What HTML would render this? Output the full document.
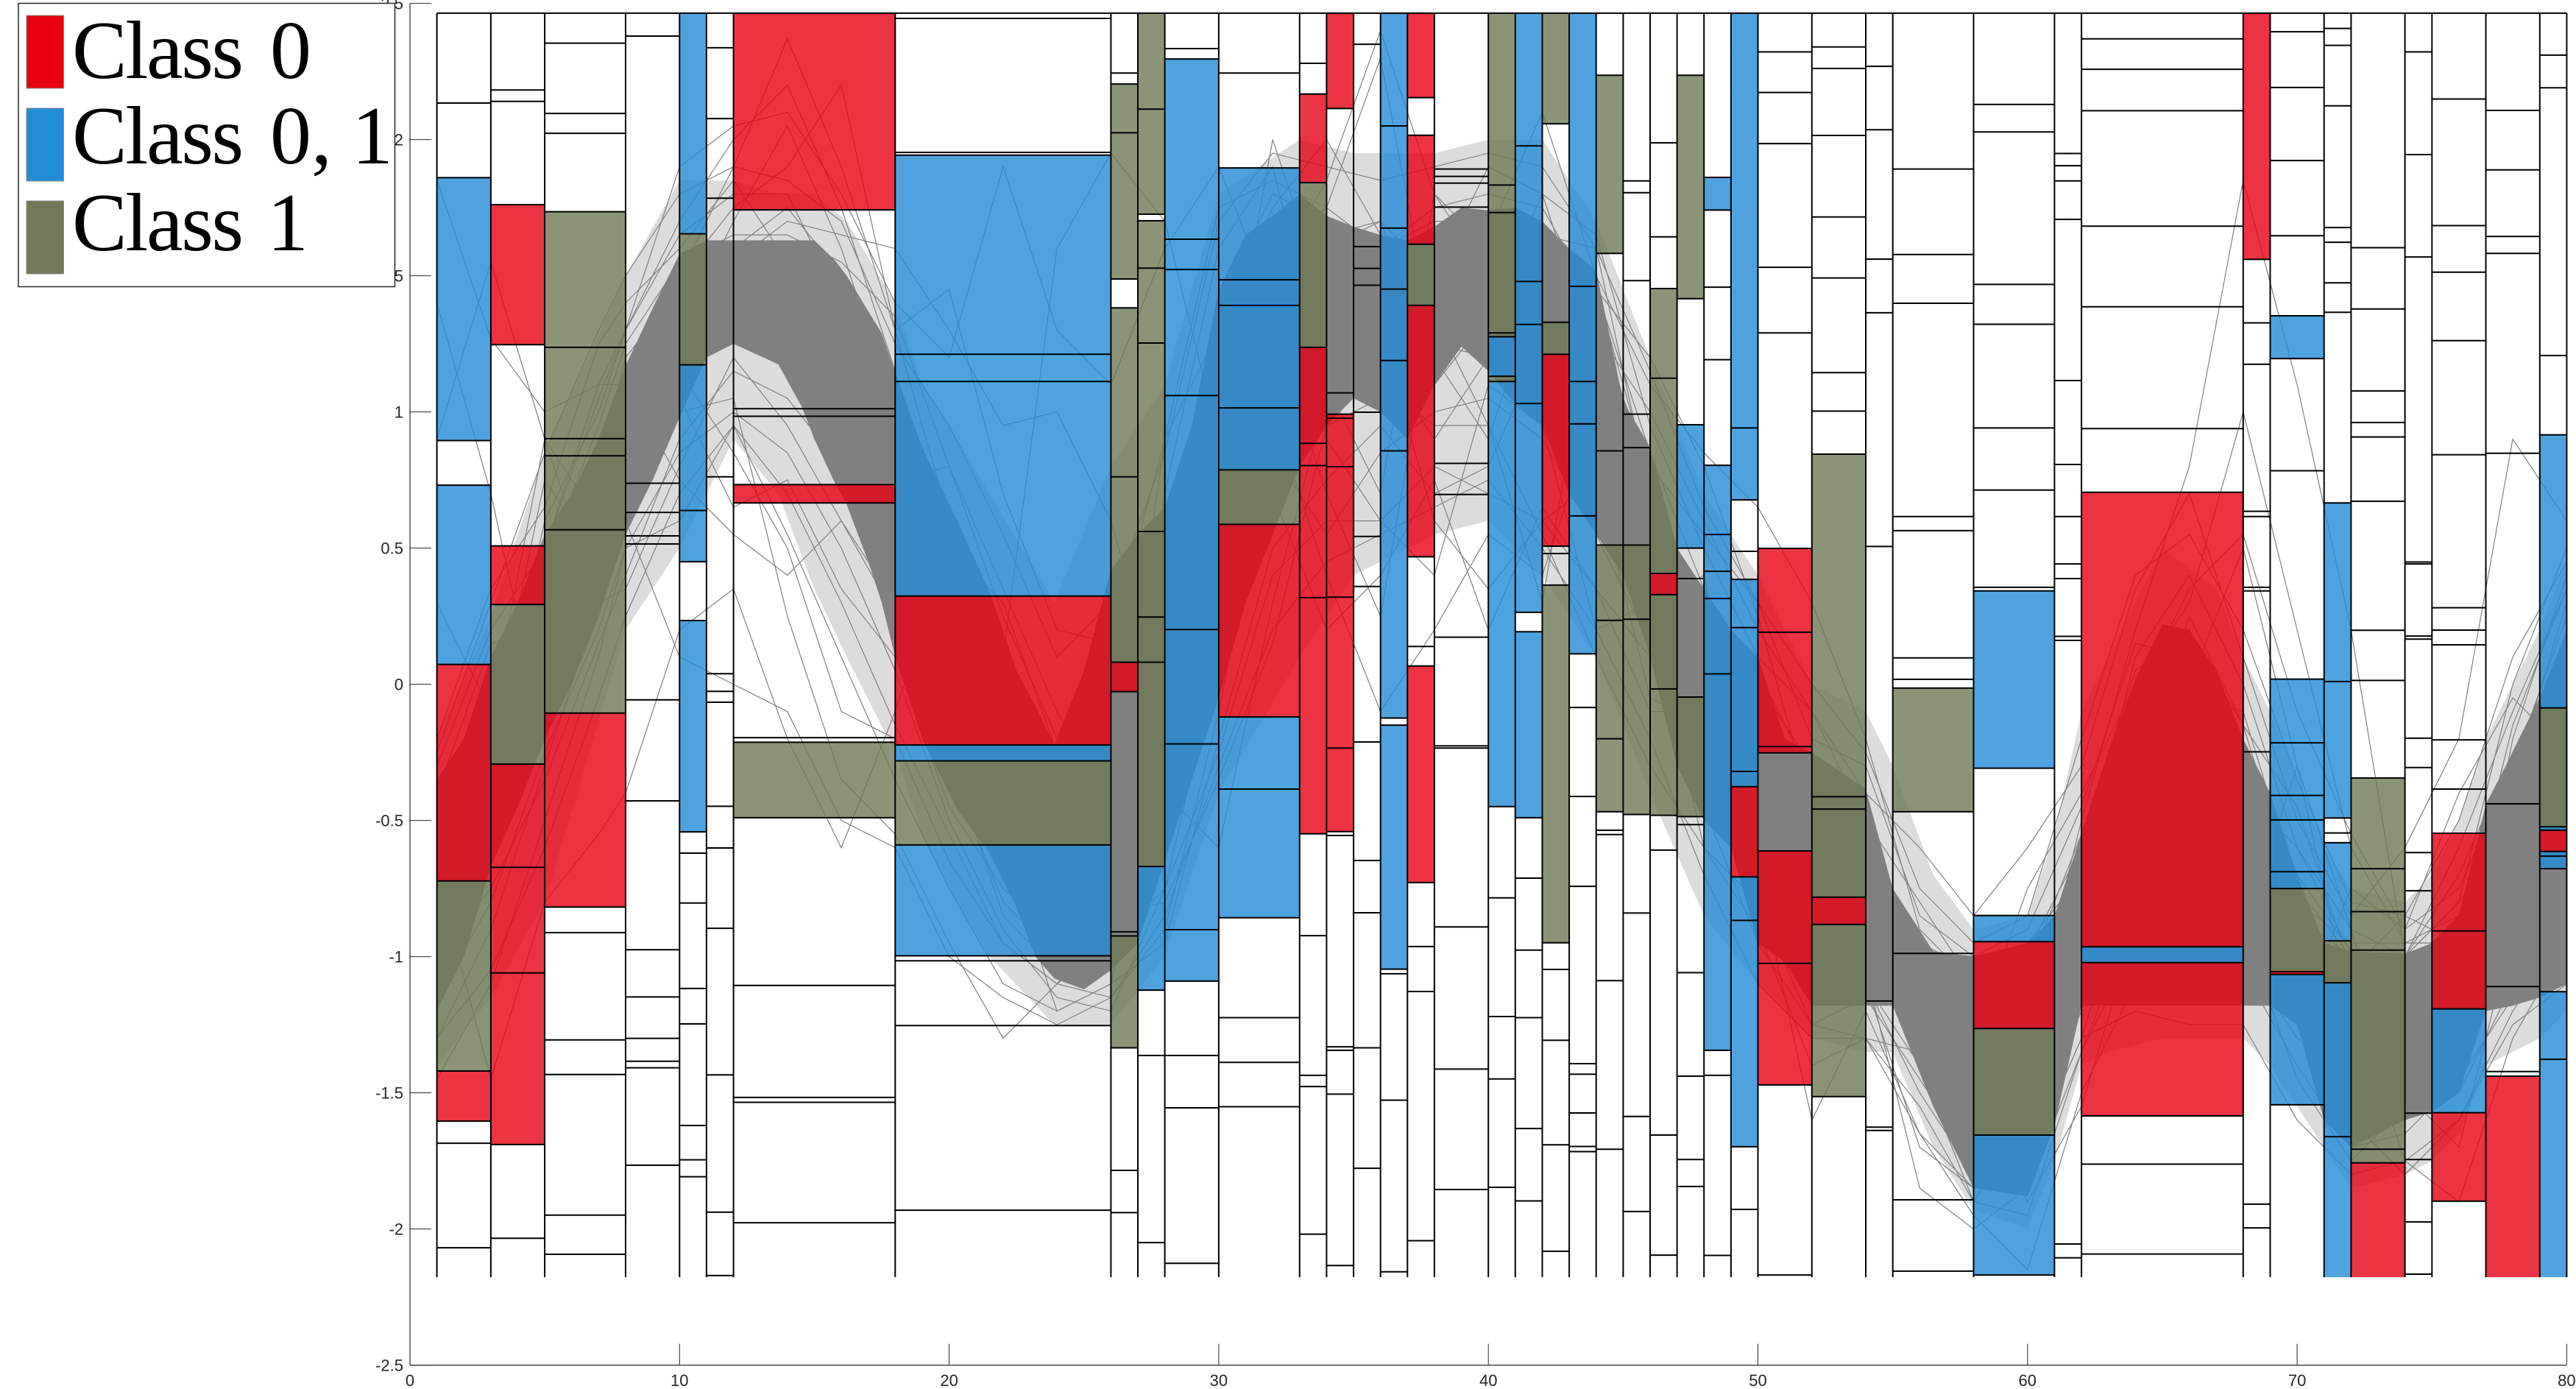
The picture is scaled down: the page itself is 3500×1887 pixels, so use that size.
<!DOCTYPE html>
<html lang="en">
<head>
<meta charset="utf-8">
<title>Class interval chart</title>
<style>
html,body{margin:0;padding:0;background:#fff;width:3500px;height:1887px;overflow:hidden}
svg{display:block}
.tick{font-family:"Liberation Sans",sans-serif;font-size:22px;fill:#262626}
.leg{font-family:"Liberation Serif",serif;font-size:112px;fill:#000}
</style>
</head>
<body>
<svg id="chart" xmlns="http://www.w3.org/2000/svg" width="3500" height="1887" viewBox="0 0 3500 1887">
<g id="band"></g>
<g id="wisps"></g>
<g id="fills"></g>
<g id="edges"></g>
<g id="axes"></g>
<g>
<rect x="25" y="4.5" width="511.5" height="385" fill="#fff" stroke="#262626" stroke-width="1.5"/>
<rect x="36" y="21" width="50.5" height="99" fill="#E60012" stroke="#8a8a8a" stroke-width="1"/>
<text class="leg" y="106"><tspan x="98" letter-spacing="-2.4">Class </tspan><tspan x="367">0</tspan></text>
<rect x="36" y="147" width="50.5" height="99" fill="#228CD7" stroke="#8a8a8a" stroke-width="1"/>
<text class="leg" y="222"><tspan x="98" letter-spacing="-2.4">Class </tspan><tspan x="367">0,</tspan> <tspan x="478">1</tspan></text>
<rect x="36" y="273" width="50.5" height="99" fill="#6F7955" stroke="#8a8a8a" stroke-width="1"/>
<text class="leg" y="340"><tspan x="98" letter-spacing="-2.4">Class </tspan><tspan x="363">1</tspan></text>
</g>
</svg>
<script>
const binEdges = [1,3,5,8,10,11,12,18,26,27,28,30,33,34,35,36,37,38,40,41,42,43,44,45,46,47,48,49,50,52,54,55,58,61,62,68,69,71,72,74,75,77,79,80];
const rangeTop = 2.464;
const rangeBottom = -2.177;
const splitValues = [
[2.134,1.86,.895,.731,.073,-.722,-1.42,-1.604,-1.685,-2.069],
[2.182,2.14,1.761,1.247,.508,.293,-.293,-.672,-1.06,-1.69,-2.034],
[2.354,2.096,2.023,1.735,1.237,.902,.839,.567,-.106,-.818,-.912,-1.306,-1.433,-1.949,-2.093],
[2.38,.738,.631,.545,.515,-.057,-.428,-.975,-1.148,-1.3,-1.384,-1.408,-1.766],
[1.654,1.173,.638,.45,.234,-.542,-.62,-.803,-1.117,-1.247,-1.62,-1.746,-1.808],
[2.337,2.077,1.785,.762,.039,-.026,-.066,-.448,-.601,-.896,-1.434,-1.938,-2.171],
[1.742,1.012,.984,.733,.666,-.196,-.213,-.49,-1.106,-1.517,-1.535,-1.977],
[2.445,1.953,1.943,1.212,1.112,.324,-.223,-.281,-.59,-.997,-1.015,-1.253,-1.931],
[2.244,2.204,2.025,1.488,1.382,.762,.081,-.027,-.909,-.924,-1.335,-1.785,-1.94],
[2.112,1.726,1.702,1.528,1.253,.561,.247,.081,-.669,-1.123,-1.363,-2.05],
[2.334,2.296,1.634,1.523,1.06,.201,-.219,-.901,-1.09,-1.363,-1.555,-2.126],
[2.244,1.896,1.485,1.391,1.015,.787,.587,-.12,-.385,-.857,-1.224,-1.388,-1.551],
[2.28,2.167,1.842,1.237,.885,.803,.318,-.549,-.923,-1.436,-1.477,-2.019],
[2.114,1.07,.992,.977,.799,.32,-.234,-.541,-.555,-1.331,-1.344,-1.505,-2.134],
[2.35,1.607,1.527,1.465,.999,.543,.359,-.212,-.647,-.839,-1.335,-1.777],
[2.05,1.675,1.451,1.189,.857,-.124,-.15,-1.046,-1.063,-1.527,-2.157],
[2.154,2.016,1.616,1.391,.468,.139,.067,-.728,-.963,-1.128,-2.043],
[1.892,1.865,1.84,1.752,.811,.697,.173,-.226,-.234,-.891,-1.413,-1.855],
[1.833,1.732,1.29,1.276,1.131,1.112,-.449,-.784,-1.22,-1.449,-1.847],
[1.977,1.479,1.321,1.031,.264,.193,-.49,-.712,-.976,-1.224,-1.631,-1.897],
[2.058,1.329,1.212,.507,.48,.364,-.949,-1.047,-1.307,-1.691,-2.082],
[1.461,1.112,.956,.618,.112,-.085,-.412,-.742,-1.393,-1.432,-1.574,-1.697,-1.716],
[2.236,1.582,.857,.511,.235,-.2,-.468,-.536,-.552,-1.088,-1.707],
[1.848,1.805,1.482,.992,.869,.511,.239,-.478,-.84,-1.587,-1.936],
[1.988,1.643,1.453,1.124,.407,.329,-.017,-.481,-.609,-1.655,-2.096],
[2.236,1.416,.953,.5,.388,-.047,-.486,-.515,-1.059,-1.439,-1.745,-1.844],
[1.861,1.741,1.458,1.192,.804,.55,.415,.315,.038,-1.344,-1.436,-2.097],
[.941,.677,.488,.385,.208,-.32,-.376,-.707,-.867,-1.698,-1.928],
[2.322,2.173,1.985,1.531,1.29,.499,.191,-.229,-.252,-.612,-1.025,-1.471,-2.169],
[2.34,2.261,2.015,1.716,1.492,1.144,1.003,.845,-.413,-.458,-.782,-.882,-1.514],
[2.269,2.036,1.561,1.364,.506,-1.163,-1.626,-1.638],
[1.892,1.578,1.399,.616,.564,.097,.018,-.014,-.468,-.988,-1.893,-2.155],
[2.129,2.028,1.468,1.322,.941,.713,.356,.343,-.308,-.849,-.945,-1.264,-1.655,-2.169],
[1.949,1.904,1.848,1.707,1.115,.807,.616,.442,.388,.176,.161,-2.055,-2.106],
[2.37,2.258,2.106,1.682,1.386,.939,.705,-.964,-1.022,-1.585,-1.762,-2.092],
[1.56,1.327,1.175,.635,.616,.356,.343,-.248,-1.909,-1.996],
[2.396,2.191,1.923,1.647,1.353,1.196,.784,.019,-.215,-.408,-.498,-.688,-.75,-1.055,-1.065,-1.544],
[2.408,2.346,2.124,1.677,1.623,1.474,1.366,.666,.01,-.491,-.546,-.582,-.942,-1.096,-1.661],
[1.603,1.378,1.077,.961,.908,.672,.198,.014,-.344,-.677,-.835,-.976,-1.707,-1.757],
[2.322,1.945,1.569,.449,.442,.177,.166,-.198,-.306,-.618,-.758,-1.575,-1.745,-1.974,-2.166],
[2.149,1.684,1.513,1.262,.843,.281,.199,.145,-.204,-.385,-.547,-.906,-1.192,-1.573,-1.898],
[2.107,1.889,1.644,1.582,.848,-.439,-1.11,-1.422,-1.439],
[2.31,2.19,1.207,.916,-.087,-.523,-.536,-.614,-.631,-.677,-1.129,-1.377]
];
const splitClasses = [
"nnbnbrgrnnn","nnnrnrgrrrnn","nnnngggggrnnnnnn","","bgbbnb","","rnnnrnng","nnnbbbrbgb",
"nnggnggrnng","ggnggggggb","nnbbbbbbb","nnbbbbgrbb","nnrgrrrr","rnnrrrrr","","bbbbbbnb",
"rnrgrnnr","","ggggbgb","bbbbbnb","gngrnng","bbbbb","ngnnggg","nnnnnngg","nnnggrgg","ngnbnng",
"nbnnnbbbbb","bbnnbbbrbb","nnnnnnrrrnrr","nnnnnnnngggrg","","nnnnnnnng","nnnnnnnnbnbrgb","",
"nnnnnnnrbr","r","nnnnnbnnbbbbbgrb","nnnnnnnnbbnnbgbb","nnnnnnnnngggggr","","nnnnnnnnnnnrrbr",
"nnnnnnnnnr","nnnnbgbrbbnbb"
];
const bandX = [1,2,3,4,5,6,7,8,9,10,11,12,13.66,14.53,15,15.75,16.2,17,17.5,18,19,20.3,21.5,22.5,23.2,23.9,25,26,27,28,29,30,31,32,33,34,35,36,37,38,39,40,41,42,43,44,45,46,47,48,49,50,51,52,54,55,56.5,58,60,61,62,63,64,65,66,67,68,69,70,71,72,74,75,76,77,78,79,80];
const bandTop = [-.35,-.2,.1,.3,.55,.7,.9,1.17,1.38,1.58,1.63,1.63,1.63,1.63,1.63,1.558,1.5,1.37,1.289,1.145,.87,.6,.34,.05,-.08,-.22,.05,.42,.55,.65,.95,1.45,1.65,1.72,1.8,1.72,1.68,1.65,1.63,1.68,1.75,1.74,1.75,1.7,1.6,1.52,1.04,.87,.5,.35,.2,.1,-.2,-.25,-.385,-.75,-.98,-1,-.95,-.85,-.55,-.25,.02,.22,.2,.05,-.2,-.4,-.7,-.95,-.98,-.99,-.95,-.85,-.44,-.25,-.05,.2];
const bandBottom = [-1.2,-1,-.67,-.45,-.2,0,.25,.55,.75,.98,1.2,1.25,1.175,1.02,.9,.742,.66,.45,.3,.1,-.2,-.46,-.62,-.82,-1,-1.08,-1.12,-1.05,-.95,-.65,-.35,-.05,.3,.55,.8,.95,1.05,1,.9,1.1,1.24,1.15,1.03,.95,.7,.55,.4,.1,-.3,-.5,-.6,-.95,-1.02,-1.18,-1.18,-1.18,-1.55,-1.85,-1.88,-1.62,-1.18,-1.18,-1.18,-1.18,-1.18,-1.18,-1.18,-1.18,-1.25,-1.6,-1.7,-1.6,-1.57,-1.5,-1.2,-1.18,-1.15,-1.1];
const fringeX = [1,3,5,8,10,12,13.66,15,16.2,18,19,20.3,21.5,23.9,26,28,30,33,35,38,40,42,44,46,48,50,52,54,55,56.5,58,60,61,62,63,65,67,68,69,71,72,74,75,76,77,79,80];
const fringeTop = [-.2,.25,.85,1.5,1.85,1.85,1.8,1.8,1.7,1.4,1.1,.9,.7,.3,.8,1.1,1.8,2,1.95,1.95,2,2,1.7,1.2,.7,.4,0,-.1,-.3,-.7,-.9,-.85,-.55,-.1,.1,.5,.35,.1,-.1,-.6,-.75,-.8,-.7,-.5,-.2,.2,.45];
const fringeBottom = [-1.4,-1.15,-.8,.2,.5,.9,.7,.35,.1,-.25,-.55,-.8,-1,-1.25,-1.25,-1,-.4,.1,.4,.55,.6,.4,.1,-.4,-.85,-1.1,-1.3,-1.35,-1.35,-1.7,-1.93,-2,-1.75,-1.4,-1.35,-1.3,-1.3,-1.3,-1.4,-1.7,-1.85,-1.8,-1.75,-1.65,-1.4,-1.3,-1.2];
const sampleX = [1,3,5,7,8,10,12,14,16,18,20,22,24,26,28,30,32,34,36,38,40,42,44,46,48,50,52,54,56,58,60,62,64,66,68,70,72,74,76,78,80];
const trajectories = [
[1.85,1.27,1.0,1.1,1.3,1.9,2.05,2.1,1.8,1.4,1.2,1.9,1.3,1.1,1.6,1.9,1.4,1.6,1.7,1.5,1.55,1.7,1.3,1,.6,.2,-.1,-.5,-.8,-1.1,-1.2,-.8,-.2,.2,-.3,-.9,-1,-1.1,-.9,-.3,.1],
[.9,1.55,.9,.6,.9,1.5,1.9,2.37,1.9,1.3,.6,.1,1.6,1.95,1.7,.9,2,1.4,1,1.5,1.9,1.8,1.2,.7,.3,-.4,-.9,-1,-1.3,-1.6,-1.8,-1.1,-.6,0,.5,-.3,-1.2,-1.3,-1.2,-.2,.4],
[-.8,-.3,.6,1,1.3,1.7,2,2.2,1.75,1.15,.35,-.4,-.9,-.6,.7,1.6,1.9,1.1,.7,1.8,1.6,1.4,1.45,.75,.1,-.5,-.7,-1.1,-1.7,-1.85,-1.3,-.5,.2,.8,1.85,1.1,.2,-1,-.8,0,.5],
[-1.1,-.6,.05,.7,.95,1.3,1.7,2.05,1.6,1,.1,-.6,-1.2,-1.1,-.3,1,1.6,.9,.6,.4,1.1,.95,.2,.3,.4,-.55,-.9,-1.1,-1.4,-1.9,-1.6,-.9,-.4,-.1,-.4,-.6,-.99,-1,-.8,-.55,-.1],
[-.3,.2,.5,1.1,1.1,.75,.55,.4,.6,.25,-.3,-.8,-1,-1,-.5,.4,1.2,1.65,1.7,1.2,.9,1.5,1.3,.8,-.2,-.3,-1,-1.05,-1.2,-1.5,-1.9,-1.55,-.9,-.5,-.9,-.3,-.9,-1.5,-1.7,-.9,-.4],
[-1.3,-.9,-.3,.3,.6,.1,0,-.1,-.5,-.6,-1,-1.15,-1.25,-1.15,-.9,-.1,.9,1.3,1.2,.9,1.2,1.1,.9,.6,.1,-.3,-.6,-.95,-1.1,-1.4,-1.2,-1.15,-.8,-.3,-1,-1.3,-1.4,-1.05,-.85,-.6,-.2],
[-.65,-.1,.35,.9,1.15,1.5,1.75,1.9,2.2,1.3,1.45,.7,.2,.15,.9,1.75,1.85,1.75,2.3,1.25,1.35,1.8,1.65,.95,.5,.1,-.1,-.4,-.6,-.85,-.6,-.3,.35,.7,.1,-.5,-.85,-.6,-.2,.9,.6],
[-.95,-.4,.1,.8,1.05,1.35,1.55,1.7,1.65,1.6,1.3,.95,1,.6,-.1,.7,1.5,1.85,2.4,1.8,1.5,1.4,.9,.8,.55,.3,-.2,-.3,-.85,-1,-1.05,-.85,-.1,.05,-.2,-.9,-1.6,-1.8,-1.6,-1.2,-.9],
[-.5,-.2,.75,.45,.8,1.1,1.4,1.35,1,.45,-.25,-.85,-1.05,-.75,-.3,.65,1.3,.7,.25,1.4,1.7,1.65,1.6,.7,-.2,-.85,-1.1,-1.15,-1.45,-1.75,-1.5,-.85,-.15,-.05,-.1,-.75,-1,-1.2,-1.05,-.7,.05],
[-.4,.15,.2,.5,.55,1.2,1.3,1.55,1.3,.7,.15,-.45,-.7,-.95,-.6,.2,1,.4,-.1,.2,.55,.4,1,.25,-.6,-.9,-1.4,-1.3,-1.35,-1.8,-1.65,-1.2,-.35,.25,-.15,-.45,-1.05,-1.15,-1.25,-1,-.5],
[-1,-.75,-.35,.15,.4,.9,1.15,1.05,.8,.35,-.15,-.5,-.75,-.9,-.65,.3,.85,.55,.85,1,1.05,.9,.55,.15,-.35,-.7,-1.6,-1.2,-1.65,-1.95,-2.15,-1.5,-1.1,-.8,-1,-1.1,-1.2,-1.3,-1.35,-.95,-.6],
[-1.2,-.55,-.15,.35,.65,1.05,.65,.75,.35,.1,-.45,-.75,-.9,-1.05,-.4,-.6,.3,1.05,1.3,.6,.35,.6,.75,-.05,-.15,-.75,-1.05,-.85,-1,-1.25,-1.4,-1,-.75,-.6,-1.05,-1.25,-.75,-.9,-.4,-.05,-.25],
[-.75,-.05,.4,.8,1.2,1.45,1.6,1.75,1.5,1.1,.5,-.15,-.55,-.6,.1,1.25,1.7,1.6,1.55,1.65,1.65,1.55,1.25,.6,.2,.05,-.35,-.7,-1,-1.15,-1.05,-.55,.05,.2,-.25,-.7,-.98,-1.02,-.9,-.4,.2],
[-.85,-.25,.25,.65,.95,1.25,1.4,1.3,1.05,.6,0,-.55,-.95,-1,-.5,.5,1.1,1.25,1.2,1.25,1.2,1.1,.8,.35,-.15,-.6,-.95,-1.1,-1.5,-1.8,-1.7,-1.1,-.5,-.2,-.6,-1,-1.3,-1.3,-1,-.55,0],
[1.4,.7,-.2,.25,.6,1,1.05,.25,-.35,-.55,-.95,-1.3,-1.1,-.85,-.8,-.35,.15,.95,1.05,1.35,.95,.3,1.45,1.2,.8,.25,-.45,-.55,-1.1,-1.3,-.75,-.4,0,.3,1,.2,-.6,-.95,-.95,-.15,.35],
[-1.45,-1.1,-.5,.1,.5,.6,.95,.55,.1,-.35,-.75,-1.1,-1.2,-1.1,-.95,-.2,.5,.75,.95,.7,.8,1.25,1.05,.5,0,-.45,-.85,-1.05,-1.85,-2,-1.85,-1.35,-.95,-.7,-1.05,-1.4,-1.7,-1.65,-1.45,-1.15,-.75],
[-.2,.35,.65,1.25,1.4,1.6,1.85,1.55,1.15,.75,.8,.25,-.2,-.2,.35,1.3,1.75,2,1.65,1.55,1.65,2.1,1.5,1.1,.85,.65,.3,-.2,-.9,-1.1,-.95,-.7,-.05,.35,.55,-.1,-.55,-.9,-.75,-.3,.25],
[-.9,-.45,-.05,.55,.85,1.15,.85,.5,-.1,-.2,-.65,-.95,-1.1,-.95,-.75,.1,.7,.2,.4,.75,.2,.65,.35,-.1,-.1,-.25,-.7,-.95,-1.25,-1.55,-1.75,-1.3,-.65,-.35,-.75,-1.15,-1.5,-1.15,-1.1,-.75,-.35],
[-1.05,-.65,-.2,.45,.75,1.4,1.5,1.6,1.45,.95,.25,-.3,-.65,-.4,.25,1.1,1.55,1.5,1.45,1.45,1.45,1.4,1.15,.5,.05,-.4,-.65,-.9,-.98,-1,-.9,-.45,.15,.1,-.35,-.85,-1,-1,-.7,-.25,.15],
[.3,-.1,.9,.3,.35,.8,1.2,.95,.6,.3,-.35,-.7,-.85,-1,-.2,.85,1.45,1.35,1.3,1.1,1.35,1.2,.65,.4,.3,-.1,-.55,-.75,-1.05,-1.25,-1.1,-.75,-.05,.12,-.5,-.95,-1.05,-.85,-.95,-.45,-.05],
[-.6,-.15,.45,.95,1.25,1.55,1.65,1.65,1.55,1.35,.8,.35,-.1,-.45,.45,1.4,1.8,1.7,1.6,1.7,1.7,1.65,1.45,.85,.35,0,-.3,-.6,-.95,-1.05,-.98,-.6,-.1,.18,-.15,-.8,-.95,-.95,-.85,-.35,.3],
[-.7,-1.45,-.8,-.55,-.4,.2,.35,-.2,-.6,-.1,.5,.3,-.25,-.5,.9,1.3,.65,1.15,1.1,.95,.95,.55,.1,-.3,-.6,-.8,-1.25,-1.15,-1.1,-1.05,-1.15,-1.05,-.95,-1,-1.1,-1.2,-1.15,-1.75,-1.9,-1.3,-.95],
[-.55,.05,.5,1.05,1.3,1.65,1.8,1.8,1.4,.85,.3,-.25,-.6,-.7,-.1,.9,1.6,1.75,1.6,1.75,1.8,1.75,1.4,.7,.05,-.45,-.75,-1,-1.25,-1.55,-1.45,-.7,.1,.4,0,-.6,-.9,-1,-.6,-.1,.35],
[-1.15,-.8,-.25,.2,.5,.85,1,.85,.5,.05,-.5,-.9,-1.15,-1.2,-.75,-.25,.4,.6,.6,.8,.7,.6,.35,.1,-.45,-.95,-1.25,-1.3,-1.55,-1.9,-1.95,-1.35,-.85,-.55,-.9,-1.45,-1.75,-1.55,-1.5,-1.1,-.85],
[-.25,.3,.85,1.3,1.5,1.8,1.9,1.85,1.7,1.25,.95,.55,.1,.3,.85,1.7,1.95,1.9,1.85,1.9,1.95,1.9,1.6,1.15,.65,.3,0,-.25,-.75,-.95,-.85,-.2,.4,.55,.2,-.35,-.8,-.85,-.5,.1,.45],
[-1.3,-1.05,-.6,-.05,.25,.7,.95,.7,.3,-.15,-.55,-.95,-1.1,-1.15,-.85,-.3,.2,.45,.55,.65,.75,.5,.2,-.2,-.7,-1.1,-1.3,-1.3,-1.65,-1.85,-1.75,-1.3,-1.2,-1.25,-1.25,-1.6,-1.8,-1.75,-1.6,-1.25,-1.1]
];
const xTickValues = [0,10,20,30,40,50,60,70,80];
const xTickLabels = ["0","10","20","30","40","50","60","70","80"];
const yTickValues = [-2.5,-2,-1.5,-1,-.5,0,.5,1,1.5,2,2.5];
const yTickLabels = ["-2.5","-2","-1.5","-1","-0.5","0","0.5","1","1.5","2","2.5"];

const classFill = {r:"#E60012", b:"#228CD7", g:"#6F7955"};
const classLabel = {r:"class-0", b:"class-0-1", g:"class-1"};
const NS = "http://www.w3.org/2000/svg";
function sx(v){ return 557 + 36.63 * v; }
function sy(v){ return 929.6 - 370 * v; }
function make(tag, parent, props){
  const el = document.createElementNS(NS, tag);
  for (const k in props) el.setAttribute(k, props[k]);
  parent.appendChild(el);
  return el;
}
function envelope(xs, tops, bottoms){
  const pts = [];
  xs.forEach((x,i)=>pts.push(sx(x).toFixed(1)+","+sy(tops[i]).toFixed(1)));
  for (let i = xs.length-1; i >= 0; i--) pts.push(sx(xs[i]).toFixed(1)+","+sy(bottoms[i]).toFixed(1));
  return pts.join(" ");
}
const gBand = document.getElementById("band");
const gWisps = document.getElementById("wisps");
const gFills = document.getElementById("fills");
const gEdges = document.getElementById("edges");
const gAxes = document.getElementById("axes");

/* haze of sparse trajectories around the dense band */
const fringePoly = make("polygon", gBand, {points:envelope(fringeX, fringeTop, fringeBottom), fill:"#808080", "fill-opacity":"0.28"});



/* dense trajectory band */
const bandPoly = make("polygon", gBand, {points:envelope(bandX, bandTop, bandBottom), fill:"#808080"});



/* individual trajectories */
trajectories.forEach((vals)=>{
  const pts = vals.map((v,i)=>sx(sampleX[i]).toFixed(1)+","+sy(v).toFixed(1)).join(" ");
  const line = make("polyline", gWisps, {points:pts, fill:"none", stroke:"#808080", "stroke-width":"1.2"});
  
  
});

/* boxes */
splitValues.forEach((breaks,c)=>{
  const x0 = sx(binEdges[c]);
  const x1 = sx(binEdges[c+1]);
  const levels = [rangeTop].concat(breaks, [rangeBottom]);
  for (let s = 0; s < levels.length-1; s++){
    const cls = splitClasses[c][s] || "n";
    if (cls !== "n"){
      const r = make("rect", gFills, {x:x0.toFixed(1), y:sy(levels[s]).toFixed(1), width:(x1-x0).toFixed(1), height:(sy(levels[s+1])-sy(levels[s])).toFixed(1), fill:classFill[cls], "fill-opacity":"0.8"});
      
      
    }
    const h = make("line", gEdges, {x1:x0.toFixed(1), x2:x1.toFixed(1), y1:sy(levels[s]).toFixed(1), y2:sy(levels[s]).toFixed(1), stroke:"#000", "stroke-width":"2"});
    
    
  }
});
binEdges.forEach((e)=>{
  const v = make("line", gEdges, {x1:sx(e).toFixed(1), x2:sx(e).toFixed(1), y1:sy(rangeTop).toFixed(1), y2:sy(rangeBottom).toFixed(1), stroke:"#000", "stroke-width":"2"});
  
  
});

/* axes */
const yAxis = make("line", gAxes, {x1:sx(0), x2:sx(0), y1:sy(2.5), y2:sy(-2.5), stroke:"#262626", "stroke-width":"1.2"});


const xAxis = make("line", gAxes, {x1:sx(0), x2:sx(80), y1:sy(-2.5), y2:sy(-2.5), stroke:"#262626", "stroke-width":"1.2"});


xTickValues.forEach((v,i)=>{
  const t = make("line", gAxes, {x1:sx(v), x2:sx(v), y1:sy(-2.5), y2:sy(-2.5)-29, stroke:"#262626", "stroke-width":"1"});
  
  
  const l = make("text", gAxes, {x:sx(v), y:1883, "text-anchor":"middle", class:"tick"});
  l.textContent = xTickLabels[i];
  
  
});
yTickValues.forEach((v,i)=>{
  const t = make("line", gAxes, {x1:sx(0), x2:sx(0)+29, y1:sy(v), y2:sy(v), stroke:"#262626", "stroke-width":"1"});
  
  
  const l = make("text", gAxes, {x:548, y:sy(v)+8, "text-anchor":"end", class:"tick"});
  l.textContent = yTickLabels[i];
  
  
});
</script>
</body>
</html>
